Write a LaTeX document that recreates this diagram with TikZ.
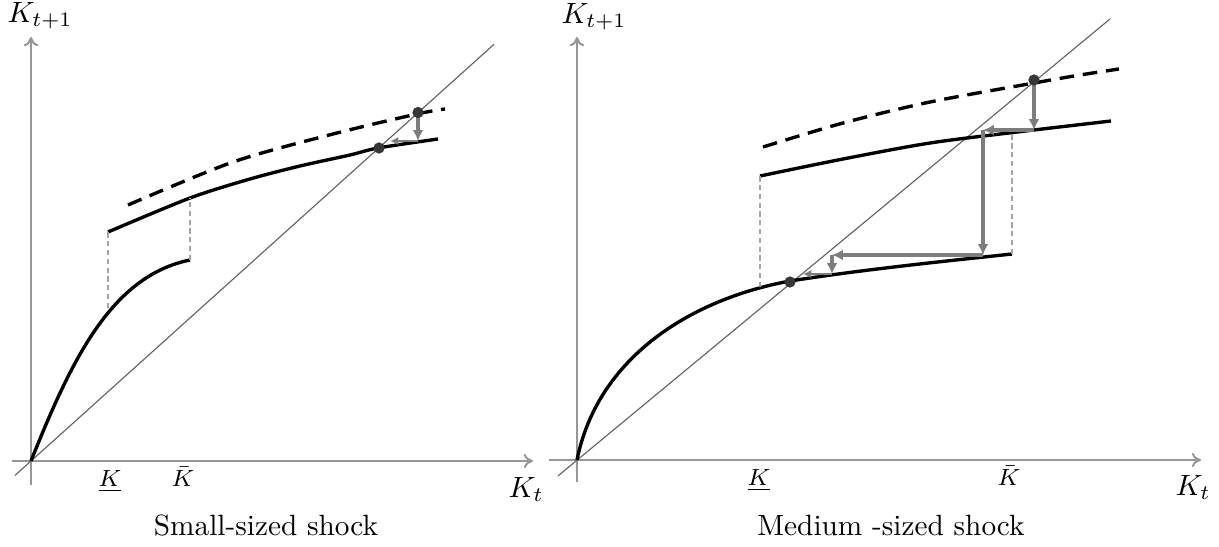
\documentclass[tikz,border=0pt]{standalone}
\usepackage{tikz}
\usetikzlibrary{arrows.meta,positioning,calc}
\usepackage{xcolor}
\definecolor{ejegris}{RGB}{150,150,150}
\definecolor{flechagris}{RGB}{125,125,125}
\definecolor{puntogris}{RGB}{55,55,55}
\definecolor{guiagris}{RGB}{165,165,165}

\begin{document}
\begin{tikzpicture}[x=0.012cm, y=0.012cm,
  eje/.style={draw=ejegris, line width=0.7pt, -{To[length=1.1mm,width=1.7mm]}},
  diag/.style={draw=black!60, line width=0.4pt},
  curva/.style={draw=black, line width=1.15pt},
  curvashock/.style={curva, dash pattern=on 5pt off 3pt},
  guia/.style={draw=guiagris, line width=0.5pt, dash pattern=on 1.8pt off 1.2pt},
  paso/.style={draw=flechagris, line width=1.2pt, -{Latex[length=1.3mm,width=1.3mm]}},
  pasofino/.style={draw=flechagris, line width=0.6pt, -{Latex[length=1mm,width=1mm]}},
  punto/.style={circle, fill=puntogris, inner sep=0pt, minimum size=1.35mm},
  etiq/.style={inner sep=0pt, font=\normalsize},
  etiqK/.style={inner sep=0pt, font=\footnotesize}]

\useasboundingbox (0,0) rectangle (1219,546);

\begin{scope}[shift={(31,85)}]
  \coordinate (xiniL) at (-19,0);   \coordinate (xfinL) at (502,0);
  \coordinate (yiniL) at (0,-24);   \coordinate (yfinL) at (0,424);
  \coordinate (diniL) at (-16,-14.4); \coordinate (dfinL) at (463,416.7);
  \draw[eje] (xiniL) -- (xfinL);
  \draw[eje] (yiniL) -- (yfinL);
  \draw[diag] (diniL) -- (dfinL);

  \draw[curva] (0,0) .. controls (40,100) and (80,185) .. (159,201);
  \draw[curva] plot[smooth] coordinates {(77,229) (159,263) (219,282) (269,295) (319,306) (347,313) (407,322)};
  \draw[curvashock] plot[smooth] coordinates {(97,256) (202,299) (302,327) (386,347) (414,352)};

  \coordinate (kinfLa) at (77,153);  \coordinate (kinfLb) at (77,229);
  \coordinate (ksupLa) at (159,201); \coordinate (ksupLb) at (159,263);
  \draw[guia] (kinfLa) -- (kinfLb);
  \draw[guia] (ksupLa) -- (ksupLb);

  \coordinate (eqbajoL) at (348,313);
  \coordinate (eqaltoL) at (387,348.5);
  \coordinate (pasoL) at (387,320);
  \coordinate (finL) at (359,320);
  \draw[paso] (eqaltoL) -- (pasoL);
  \draw[pasofino] (pasoL) -- (finL);
  \node[punto] (puntobajoL) at (eqbajoL) {};
  \node[punto] (puntoaltoL) at (eqaltoL) {};
\end{scope}

\begin{scope}[shift={(577,86)}]
  \coordinate (xiniR) at (-28,0);   \coordinate (xfinR) at (624,0);
  \coordinate (yiniR) at (0,-22);   \coordinate (yfinR) at (0,423);
  \coordinate (diniR) at (-19,-15.9); \coordinate (dfinR) at (533,441);
  \draw[eje] (xiniR) -- (xfinR);
  \draw[eje] (yiniR) -- (yfinR);
  \draw[diag] (diniR) -- (dfinR);

  \draw[curva] (0,0) .. controls (20,100) and (110,160) .. (213,179)
               .. controls (290,191) and (370,199) .. (435,206);
  \draw[curva] plot[smooth] coordinates {(183,284) (266,301) (353,317) (440,328) (534,339)};
  \draw[curvashock] plot[smooth] coordinates {(186,313) (266,337) (353,358) (457,377) (503,385) (542,391)};

  \coordinate (kinfRa) at (183,173); \coordinate (kinfRb) at (183,284);
  \coordinate (ksupRa) at (435,206); \coordinate (ksupRb) at (435,328);
  \draw[guia] (kinfRa) -- (kinfRb);
  \draw[guia] (ksupRa) -- (ksupRb);

  \coordinate (eqbajoR) at (213,178);
  \coordinate (eqaltoR) at (457,380);
  \coordinate (pR1) at (457,330);
  \coordinate (pR2) at (406,330);
  \coordinate (pR3) at (406,205);
  \coordinate (pR4) at (255,205);
  \coordinate (pR5) at (255,186);
  \coordinate (pR6) at (226,186);
  \draw[paso] (eqaltoR) -- (pR1);
  \draw[paso] (pR1) -- (pR2);
  \draw[paso] (pR2) -- (pR3);
  \draw[paso] (pR3) -- (pR4);
  \draw[paso] (pR4) -- (pR5);
  \draw[pasofino] (pR5) -- (pR6);
  \node[punto] (puntobajoR) at (eqbajoR) {};
  \node[punto] (puntoaltoR) at (eqaltoR) {};
\end{scope}

\node[etiq, anchor=base west] (ktunoL) at (7,524) {$K_{t+1}$};
\node[etiq, anchor=base west] (ktL) at (508,49) {$K_t$};
\node[etiqK, anchor=base] (kinfetL) at (110,60) {$\underline{K}$};
\node[etiqK, anchor=base] (ksupetL) at (183,60) {$\bar{K}$};
\node[etiq, anchor=base] (tituloL) at (266,11) {Small-sized shock};

\node[etiq, anchor=base west] (ktunoR) at (561,523) {$K_{t+1}$};
\node[etiq, anchor=base west] (ktR) at (1175,51) {$K_t$};
\node[etiqK, anchor=base] (kinfetR) at (759,61) {$\underline{K}$};
\node[etiqK, anchor=base] (ksupetR) at (1009,61) {$\bar{K}$};
\node[etiq, anchor=base] (tituloR) at (891,11) {Medium -sized shock};

\end{tikzpicture}
\end{document}
